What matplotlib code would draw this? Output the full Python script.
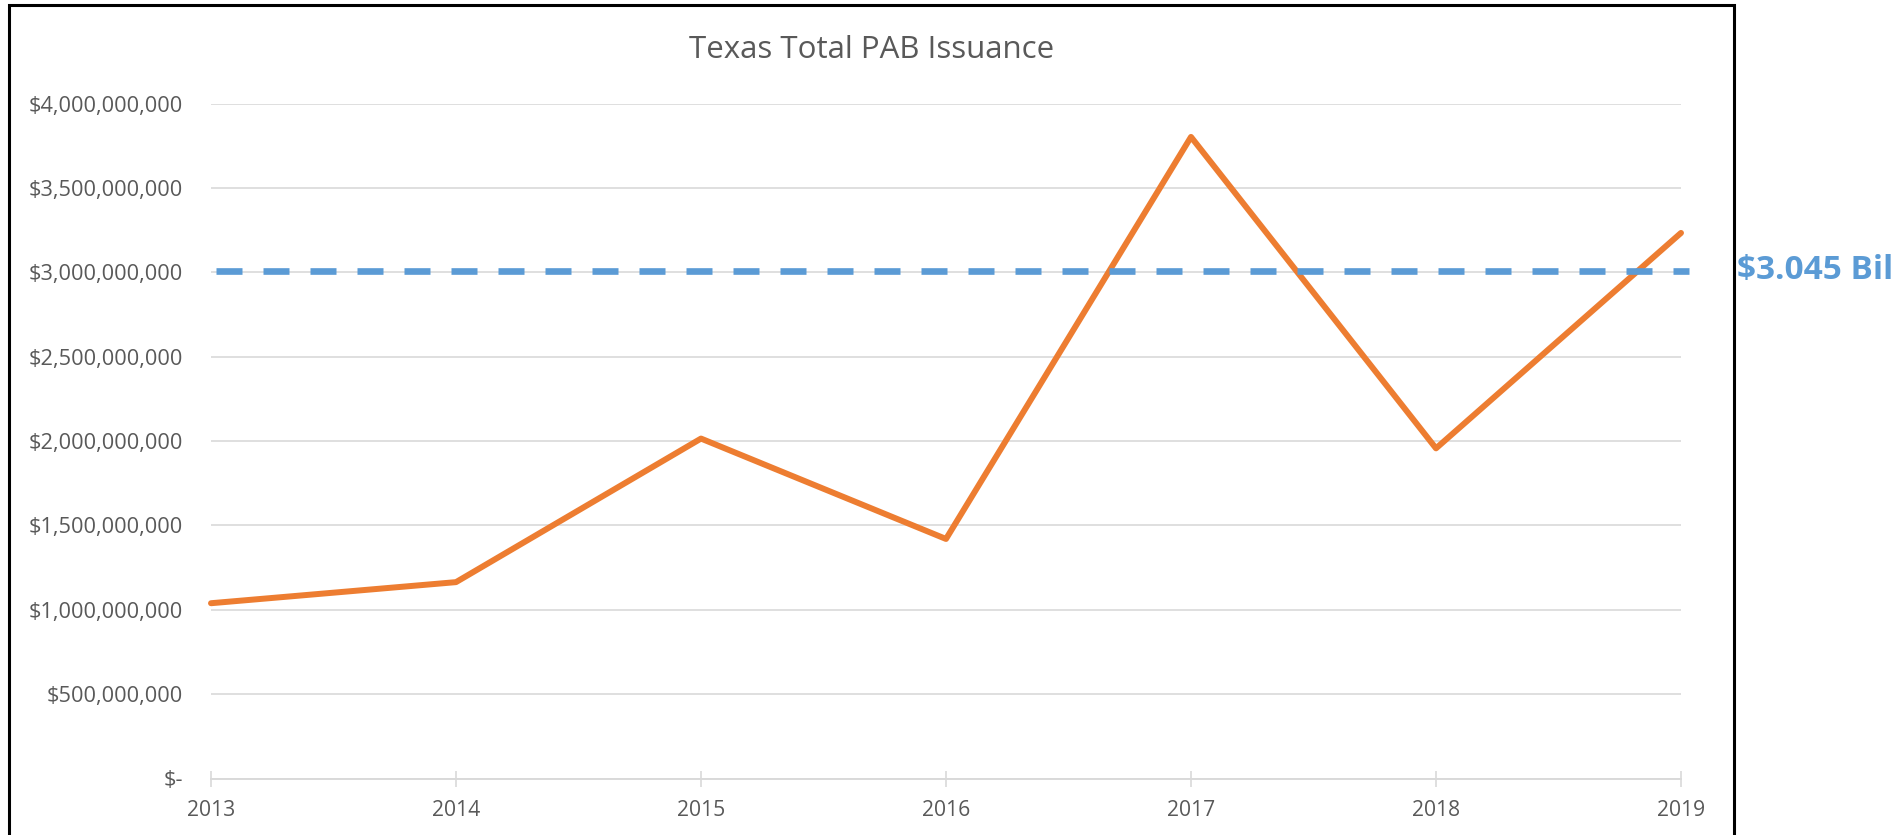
import matplotlib
matplotlib.use("Agg")
import matplotlib.pyplot as plt
from matplotlib.patches import Rectangle
from matplotlib.ticker import FuncFormatter
from matplotlib.transforms import blended_transform_factory

# ---- data ----
years = [2013, 2014, 2015, 2016, 2017, 2018, 2019]
issuance = [1.039e9, 1.164e9, 2.015e9, 1.420e9, 3.803e9, 1.957e9, 3.234e9]
reference_level = 3.01e9
reference_label = "$3.045 Bil"
title = "Texas Total PAB Issuance"
y_ticks = [0, 5e8, 1e9, 1.5e9, 2e9, 2.5e9, 3e9, 3.5e9, 4e9]
x_labels = [str(y) for y in years]

plt.rcParams['font.family'] = ['Open Sans', 'DejaVu Sans']
plt.rcParams['lines.scale_dashes'] = False

W, H = 1903, 835
fig = plt.figure(figsize=(W / 100, H / 100), dpi=100)
fig.patch.set_facecolor('white')

ax_left, ax_right = 211, 1681
ax_top, ax_bottom = 103.7, 778.5
ax = fig.add_axes([ax_left / W, 1 - ax_bottom / H,
                   (ax_right - ax_left) / W, (ax_bottom - ax_top) / H])

grid_c = '#d9d9d9'
text_c = '#595959'

ax.set_xlim(years[0], years[-1])
ax.set_ylim(0, 4e9)
ax.set_yticks(y_ticks)
ax.set_xticks(years)
ax.set_xticklabels(x_labels)


def money(v, pos):
    if v == 0:
        return "$-"
    return "${:,.0f}".format(v)


ax.yaxis.set_major_formatter(FuncFormatter(money))

ax.yaxis.grid(True, color=grid_c, linewidth=1.2)
ax.set_axisbelow(True)
for s in ['top', 'left', 'right']:
    ax.spines[s].set_visible(False)
ax.spines['bottom'].set_color(grid_c)
ax.spines['bottom'].set_linewidth(1.4)

ax.tick_params(axis='x', direction='inout', length=11, width=1.2, color=grid_c,
               pad=10, labelsize=15.2, labelcolor=text_c)
ax.tick_params(axis='y', length=0, pad=20, labelsize=15.7, labelcolor=text_c)

ax.plot(years, issuance, color='#ED7D31', lw=4.3, solid_joinstyle='round',
        solid_capstyle='round', zorder=3, clip_on=False)

ax.axhline(reference_level, xmin=0.0034, xmax=1.0054, color='#5B9BD5', lw=4.8,
           dashes=(18.72, 15.12), dash_capstyle='butt', clip_on=False, zorder=4)

trans = blended_transform_factory(fig.transFigure, ax.transData)
ax.text(1737 / W, reference_level, reference_label, transform=trans,
        ha='left', va='center', fontsize=24, fontweight='bold',
        color='#5B9BD5', clip_on=False)

fig.text(871.5 / W, 1 - 50 / H, title, ha='center', va='center',
         fontsize=22.5, color=text_c)

fig.patches.append(Rectangle((9 / W, -0.05), (1734 - 9) / W, (1 - 5 / H) + 0.05,
                             transform=fig.transFigure, fill=False,
                             edgecolor='black', lw=2.2, clip_on=False))

fig.savefig('out.png', dpi=100)
